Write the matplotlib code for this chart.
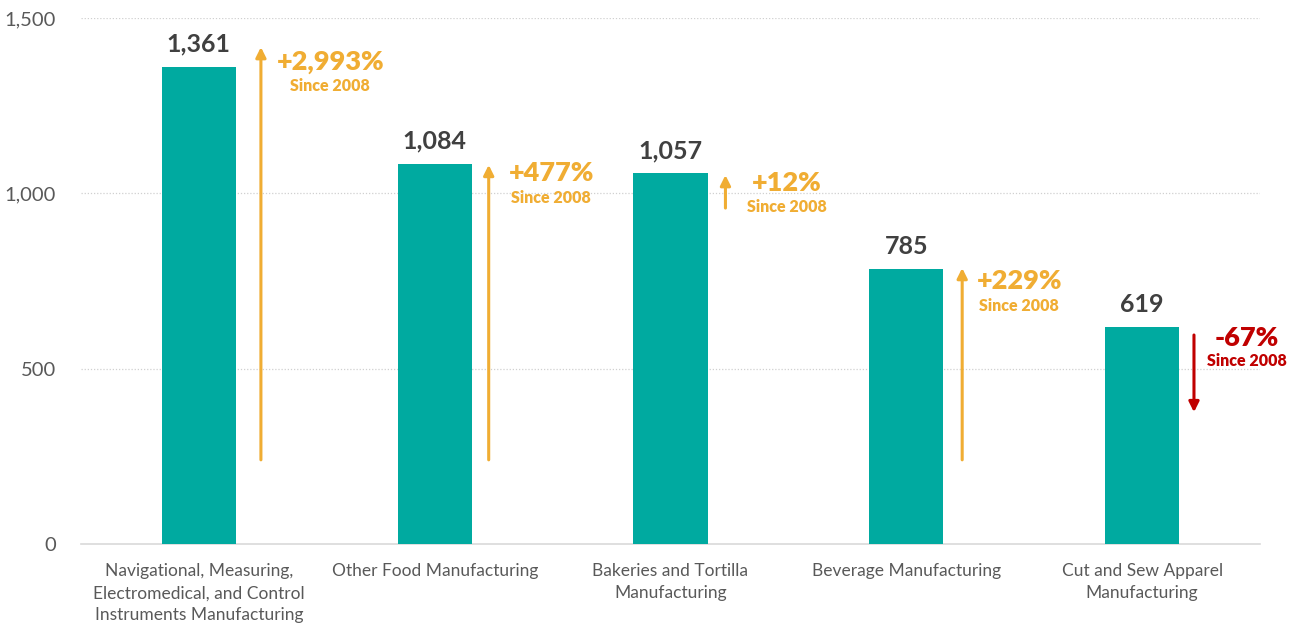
import matplotlib
matplotlib.use("Agg")
import matplotlib.pyplot as plt
from matplotlib.ticker import FuncFormatter

categories = [
    "Navigational, Measuring,\nElectromedical, and Control\nInstruments Manufacturing",
    "Other Food Manufacturing",
    "Bakeries and Tortilla\nManufacturing",
    "Beverage Manufacturing",
    "Cut and Sew Apparel\nManufacturing",
]
values = [1361, 1084, 1057, 785, 619]
pct_labels = ["+2,993%", "+477%", "+12%", "+229%", "-67%"]
arrow_start = [240, 240, 958, 240, 596]
arrow_end = [1417, 1081, 1052, 787, 376]
yticks = [0, 500, 1000, 1500]

# layout (not data): arrow x offset from bar centre, label offsets in points
arrow_offset = [0.263, 0.229, 0.233, 0.237, 0.22]
label_dx = [50, 45, 44, 41, 38]
pct_dy = [-11, -6, -6, -9, -2]
since_dy = [-28, -24, -23, -27, -19]

TEAL = "#00AAA0"
ORANGE = "#F0AD33"
RED = "#C00000"

plt.rcParams['font.family'] = ['Lato', 'DejaVu Sans']

fig = plt.figure(figsize=(12.99, 6.26), dpi=100)
ax = fig.add_axes([81/1299, 1 - 544/626, (1260-81)/1299, (544-18)/626])

x = list(range(len(values)))
ax.bar(x, values, width=0.315, color=TEAL, zorder=3)

for xi, v in zip(x, values):
    ax.annotate(f"{v:,}", (xi, v), xytext=(0, 8), textcoords="offset points",
                ha="center", va="bottom", fontsize=18, fontweight="bold", color="#404040")

for i, (xi, a0, a1, lab) in enumerate(zip(x, arrow_start, arrow_end, pct_labels)):
    col = RED if a1 < a0 else ORANGE
    xa = xi + arrow_offset[i]
    ax.annotate("", xy=(xa, a1), xytext=(xa, a0),
                arrowprops=dict(arrowstyle="-|>,head_length=0.6,head_width=0.3",
                                color=col, lw=2.2, shrinkA=0, shrinkB=0), zorder=4)
    top = max(a0, a1)
    ax.annotate(lab, (xa, top), xytext=(label_dx[i], pct_dy[i]), textcoords="offset points",
                ha="center", va="center", fontsize=19.5, fontweight="heavy", color=col)
    ax.annotate("Since 2008", (xa, top), xytext=(label_dx[i], since_dy[i]), textcoords="offset points",
                ha="center", va="center", fontsize=11.5, fontweight="heavy", color=col)

ax.set_xlim(-0.5, 4.5)
ax.set_ylim(0, 1500)
ax.set_yticks(yticks)
ax.yaxis.set_major_formatter(FuncFormatter(lambda v, p: f"{int(v):,}"))
ax.set_xticks(x)
ax.set_xticklabels(categories, fontsize=12.5, color="#595959", linespacing=1.45)
ax.tick_params(axis="y", labelsize=14.5, colors="#595959", length=0, pad=18)
ax.tick_params(axis="x", length=0, pad=14)

for s in ["top", "right", "left"]:
    ax.spines[s].set_visible(False)
ax.spines["bottom"].set_color("#D9D9D9")
ax.spines["bottom"].set_linewidth(1.2)

for t in yticks[1:]:
    ax.axhline(t, color="#D0D0D0", lw=0.9, ls=(0, (1, 1.5)), zorder=1)

fig.savefig("out.png", dpi=100)
